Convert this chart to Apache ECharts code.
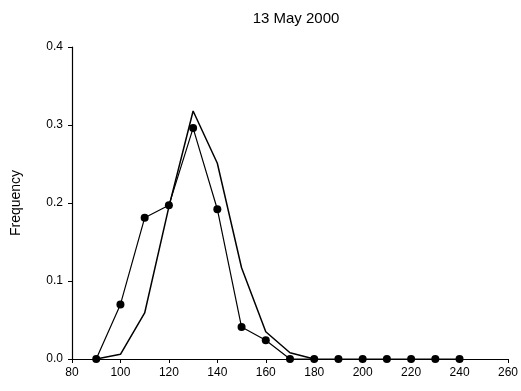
<!DOCTYPE html>
<html>
<head>
<meta charset="utf-8">
<script src="https://cdn.jsdelivr.net/npm/echarts@6/dist/echarts.min.js"></script>
<style>
  html, body { margin: 0; padding: 0; background: #fff; }
  #chart { width: 521px; height: 391px; }
</style>
</head>
<body>
<div id="chart"></div>
<script>
// Length classes (x) and observed / modelled frequencies
const lengths = [90, 100, 110, 120, 130, 140, 150, 160, 170, 180, 190, 200, 210, 220, 230, 240];
const observed = [0, 0.070, 0.181, 0.197, 0.296, 0.192, 0.041, 0.024, 0, 0, 0, 0, 0, 0, 0, 0];
const modelLengths = [90, 100, 110, 120, 130, 140, 150, 160, 170, 180];
const modelled = [0, 0.006, 0.059, 0.195, 0.318, 0.251, 0.117, 0.035, 0.008, 0];
const titleText = '13 May 2000';
const yName = 'Frequency';

const chart = echarts.init(document.getElementById('chart'), null, { renderer: 'canvas' });
const font = 'Liberation Sans, Arial, sans-serif';

chart.setOption({
  animation: false,
  backgroundColor: '#fff',
  title: {
    text: titleText,
    left: 291, top: 6, textAlign: 'center',
    textStyle: { fontFamily: font, fontSize: 15, fontWeight: 'normal', color: '#000' }
  },
  grid: { left: 72, right: 10, top: 47, bottom: 32, containLabel: false },
  xAxis: {
    type: 'value', min: 80, max: 260, interval: 20,
    axisLine: { lineStyle: { color: '#000', width: 1.2 } },
    axisTick: { show: true, length: 4, lineStyle: { color: '#000' } },
    axisLabel: { fontFamily: font, fontSize: 12, color: '#000', margin: 8 },
    splitLine: { show: false }
  },
  yAxis: {
    type: 'value', min: 0, max: 0.4, interval: 0.1,
    name: yName, nameLocation: 'middle', nameGap: 49, nameRotate: 90,
    nameTextStyle: { fontFamily: font, fontSize: 14, color: '#000' },
    axisLine: { show: true, lineStyle: { color: '#000', width: 1.2 } },
    axisTick: { show: true, length: 4, lineStyle: { color: '#000' } },
    axisLabel: { fontFamily: font, fontSize: 12, color: '#000', margin: 9,
      formatter: v => v.toFixed(1) },
    splitLine: { show: false }
  },
  series: [
    {
      type: 'line',
      data: modelLengths.map((x, i) => [x, modelled[i]]),
      showSymbol: false,
      lineStyle: { color: '#000', width: 1.5 },
      z: 2
    },
    {
      type: 'line',
      data: lengths.map((x, i) => [x, observed[i]]),
      symbol: 'circle', symbolSize: 8,
      itemStyle: { color: '#000' },
      lineStyle: { color: '#000', width: 1.2 },
      z: 3
    }
  ]
});
</script>
</body>
</html>
